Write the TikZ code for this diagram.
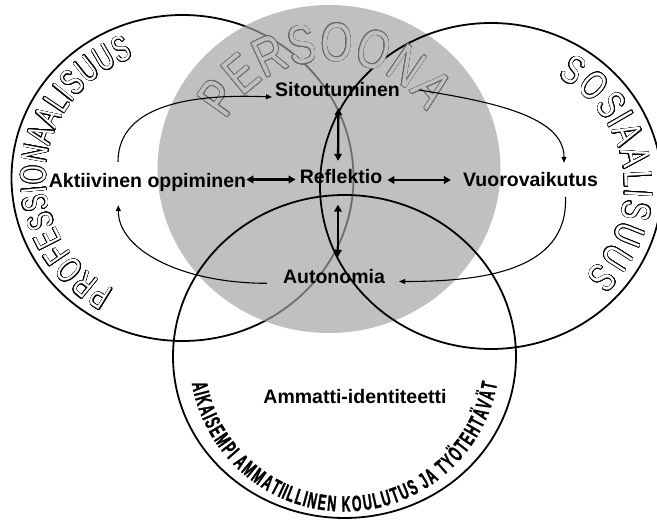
\documentclass[tikz,border=0pt]{standalone}
\usepackage{fontspec}
\setmainfont{Liberation Sans}
\newfontfamily\narrowsans[FakeStretch=0.66]{Liberation Sans}
\newfontfamily\widesans[FakeStretch=0.7]{Liberation Sans}
\newfontfamily\wordartsans[FakeStretch=0.75]{Liberation Sans}
\newfontfamily\condbold[FakeStretch=0.56,FakeBold=1.2]{Liberation Sans Bold}
\usepackage{contour}
\contourlength{0.55pt}
\contournumber{24}
\usetikzlibrary{arrows.meta,decorations.text}

\definecolor{diskfill}{RGB}{162,162,162}
\definecolor{diskshade}{RGB}{192,192,192}
\definecolor{ghostline}{RGB}{105,105,105}

% fonts for the lettering round the circles
\newcommand\ringfont{\narrowsans\fontsize{36}{36}\selectfont}
\newcommand\rightringfont{\widesans\fontsize{40}{40}\selectfont}
\newcommand\diskfont{\wordartsans\fontsize{54}{54}\selectfont}
\newcommand\basefont{\condbold\fontsize{22}{22}\selectfont}
% hollow letters: white face with a thin black rim
\newcommand\hollowchar[1]{{\ringfont\contour{black}{\textcolor{white}{#1}}}}
\newcommand\hollowwidechar[1]{{\rightringfont\contour{black}{\textcolor{white}{#1}}}}
% letters that keep the disk colour, rimmed in dark grey
\newcommand\ghostchar[1]{{\diskfont\contour{ghostline}{\textcolor{diskshade}{#1}}}}
% plain bold condensed letters
\newcommand\basechar[1]{{\basefont #1}}

\begin{document}
\begin{tikzpicture}[x=1pt,y=1pt,
  ring/.style={draw=black, line width=1.8pt},
  term/.style={font=\fontsize{19.5}{22}\selectfont\bfseries,
               text height=14pt, text depth=0pt, inner sep=0pt},
  pairarrow/.style={line width=2.3pt,
               {Triangle[length=7pt,width=7.5pt]}-{Triangle[length=7pt,width=7.5pt]}},
  cyclearrow/.style={line width=1.1pt, -{Triangle[length=6pt,width=5pt]}},
  ringtext/.style={decorate, font=#1}
]
\useasboundingbox (0,0) rectangle (657,522);
\clip (0,0) rectangle (657,522);

% centres of the four circles
\coordinate (L) at (182.5,344);
\coordinate (P) at (329,353);
\coordinate (R) at (491,336);
\coordinate (B) at (344.5,165.5);

% circles and the shaded disk
\draw[ring] (L) ellipse[x radius=171, y radius=163];
\fill[diskfill, fill opacity=0.68] (P) ellipse[x radius=171.5, y radius=164];
\draw[ring] (R) ellipse[x radius=171, y radius=163];
\draw[ring] (B) ellipse[x radius=171.5, y radius=161.5];

% lettering round the circles
\path[ringtext=\ringfont,
  decoration={text effects along path, text={PROFESSIONAALISUUS},
    text effects/.cd, text along path, fit text to path,
    character command=\hollowchar}]
  (L) ++(240:137 and 129) arc[start angle=240, end angle=111, x radius=137, y radius=129];

\path[ringtext=\rightringfont,
  decoration={text effects along path, text={SOSIAALISUUS},
    text effects/.cd, text along path, fit text to path,
    character command=\hollowwidechar}]
  (R) ++(60:134 and 126) arc[start angle=60, end angle=-45, x radius=134, y radius=126];

\path[ringtext=\diskfont,
  decoration={text effects along path, text={PERSOONA},
    text effects/.cd, text along path, fit text to path,
    character command=\ghostchar}]
  (P) ++(153:115 and 108) arc[start angle=153, end angle=32, x radius=115, y radius=108];

\path[ringtext=\basefont,
  decoration={text effects along path,
    text={AIKAISEMPI AMMATIILLINEN KOULUTUS JA TYÖTEHTÄVÄT},
    text effects/.cd, text along path, fit text to path,
    character command=\basechar}]
  (B) ++(190:155) arc[start angle=190, end angle=350, radius=155];

% the six terms
\node[term] (sit) at (337.5,432) {Sitoutuminen};
\node[term] (ref) at (341,345.5) {Reflektio};
\node[term] (akt) at (147.5,341.5) {Aktiivinen oppiminen};
\node[term] (vuo) at (530.5,342) {Vuorovaikutus};
\node[term] (aut) at (334,245.5) {Autonomia};
\node[term] (amm) at (355,125.5) {Ammatti-identiteetti};

% two-way links to the centre
\draw[pairarrow, shorten <=11pt, shorten >=8.5pt]
  ([xshift=1pt]sit.south) -- ([xshift=-3pt]ref.north);
\draw[pairarrow, shorten <=21pt, shorten >=12.5pt]
  ([xshift=-3pt]ref.south) -- ([xshift=4pt]aut.north);
\draw[pairarrow, shorten >=4pt]
  ([yshift=1pt]akt.east) -- ([yshift=-3pt]ref.west);
\draw[pairarrow, shorten <=5pt, shorten >=12pt]
  ([yshift=-3.5pt]ref.east) -- (vuo.west);

% the outer cycle
\draw[cyclearrow] ([xshift=-29.5pt,yshift=11.5pt]akt.north)
  .. controls +(0,60) and +(-72,3) .. ([xshift=-3pt,yshift=-7pt]sit.west);
\draw[cyclearrow] ([xshift=19pt]sit.east)
  .. controls +(75,-12) and +(0,46) .. ([xshift=33.5pt,yshift=10pt]vuo.north);
\draw[cyclearrow] ([xshift=35pt,yshift=-9.7pt]vuo.south)
  .. controls +(3,-75) and +(81,0) .. ([xshift=14pt,yshift=-5pt]aut.east);
\draw[cyclearrow] ([xshift=-16pt,yshift=-6.8pt]aut.west)
  .. controls +(-85,0) and +(0,-45) .. ([xshift=-29.2pt,yshift=-17.5pt]akt.south);
\end{tikzpicture}
\end{document}
